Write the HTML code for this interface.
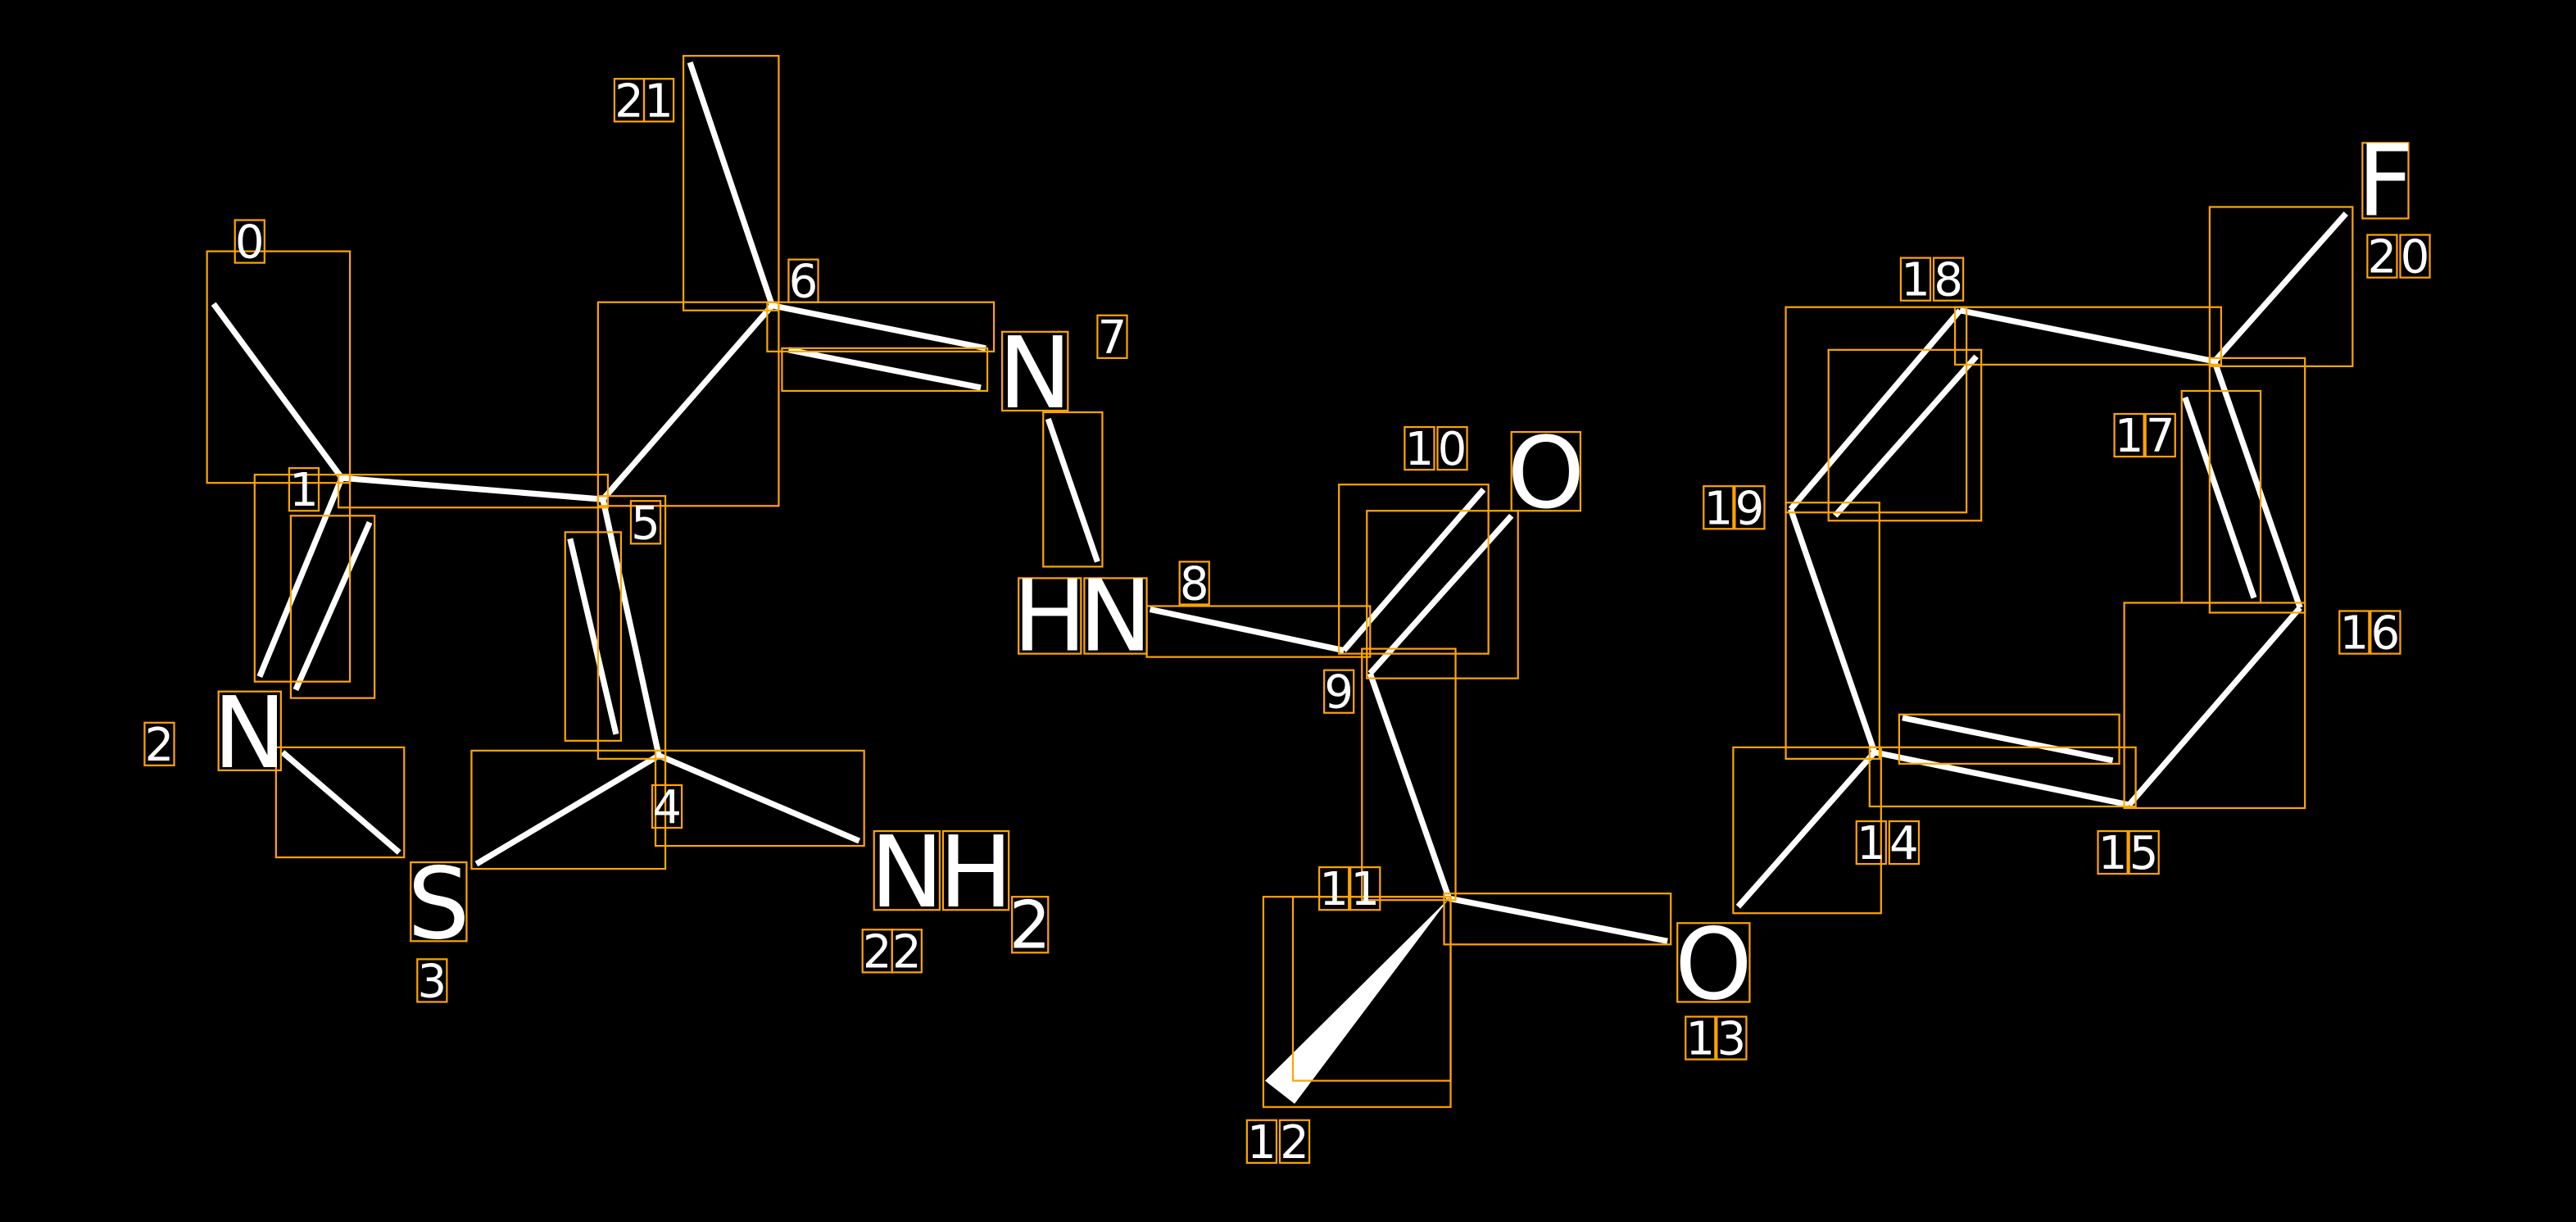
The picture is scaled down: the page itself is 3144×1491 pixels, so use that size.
<!DOCTYPE html>
<html><head><meta charset="utf-8"><style>
html,body{margin:0;padding:0;background:#000;}
svg{display:block}
</style></head><body>
<svg width="3144" height="1491" viewBox="0 0 1568 744" preserveAspectRatio="none" xmlns="http://www.w3.org/2000/svg">
<rect width="1568" height="744" fill="#000"/>
<g stroke="#fff" stroke-width="3.6" stroke-linecap="butt" fill="none">
<line x1="130" y1="185" x2="208" y2="291"/>
<line x1="208" y1="291" x2="367" y2="304"/>
<line x1="208" y1="291" x2="158" y2="412"/>
<line x1="225" y1="318" x2="180" y2="420"/>
<line x1="172" y1="458" x2="243" y2="519"/>
<line x1="290" y1="526" x2="401" y2="460"/>
<line x1="401" y1="460" x2="367" y2="304"/>
<line x1="375" y1="447" x2="347" y2="328"/>
<line x1="401" y1="460" x2="523" y2="512"/>
<line x1="367" y1="304" x2="470" y2="186"/>
<line x1="470" y1="186" x2="420" y2="38"/>
<line x1="470" y1="186" x2="600" y2="212"/>
<line x1="480" y1="213" x2="597" y2="236"/>
<line x1="638" y1="255" x2="668" y2="342"/>
<line x1="700" y1="371" x2="818" y2="396"/>
<line x1="818" y1="396" x2="903" y2="298"/>
<line x1="834" y1="410" x2="920" y2="314"/>
<line x1="834" y1="410" x2="882" y2="547"/>
<line x1="882" y1="547" x2="1015" y2="573"/>
<line x1="1058" y1="552" x2="1141" y2="458"/>
<line x1="1141" y1="458" x2="1296" y2="490"/>
<line x1="1158" y1="437" x2="1286" y2="463"/>
<line x1="1296" y1="490" x2="1400" y2="370"/>
<line x1="1400" y1="370" x2="1348" y2="220"/>
<line x1="1372" y1="364" x2="1330" y2="242"/>
<line x1="1348" y1="220" x2="1428" y2="130"/>
<line x1="1348" y1="220" x2="1193" y2="189"/>
<line x1="1193" y1="189" x2="1090" y2="310"/>
<line x1="1203" y1="217" x2="1117" y2="314"/>
<line x1="1090" y1="310" x2="1141" y2="458"/>
</g>
<polygon points="882,547 770,658 788,672" fill="#fff"/>
<g stroke="#FFA500" stroke-width="1.1" fill="none">
<rect x="126" y="153" width="87" height="141"/>
<rect x="155" y="289" width="58" height="126"/>
<rect x="177" y="314" width="51" height="111"/>
<rect x="206" y="289" width="164" height="20"/>
<rect x="364" y="184" width="110" height="124"/>
<rect x="416" y="34" width="58" height="155"/>
<rect x="467" y="184" width="138" height="30"/>
<rect x="476" y="212" width="125" height="26"/>
<rect x="364" y="302" width="41" height="160"/>
<rect x="344" y="324" width="34" height="127"/>
<rect x="287" y="457" width="118" height="72"/>
<rect x="168" y="455" width="78" height="67"/>
<rect x="399" y="457" width="127" height="58"/>
<rect x="635" y="251" width="36" height="94"/>
<rect x="698" y="369" width="136" height="31"/>
<rect x="815" y="295" width="91" height="103"/>
<rect x="832" y="311" width="92" height="102"/>
<rect x="829" y="395" width="57" height="153"/>
<rect x="769" y="546" width="114" height="128"/>
<rect x="787" y="546" width="96" height="112"/>
<rect x="879" y="544" width="138" height="31"/>
<rect x="1055" y="455" width="90" height="101"/>
<rect x="1138" y="455" width="162" height="36"/>
<rect x="1156" y="435" width="134" height="30"/>
<rect x="1293" y="367" width="110" height="125"/>
<rect x="1345" y="218" width="58" height="155"/>
<rect x="1328" y="238" width="48" height="129"/>
<rect x="1345" y="126" width="87" height="97"/>
<rect x="1190" y="187" width="162" height="35"/>
<rect x="1087" y="187" width="110" height="125"/>
<rect x="1113" y="213" width="93" height="104"/>
<rect x="1087" y="306" width="57" height="156"/>
<!-- digit boxes -->
<rect x="143" y="134" width="18" height="26"/>
<rect x="374" y="48" width="18" height="26"/><rect x="392" y="48" width="18" height="26"/>
<rect x="480" y="158" width="18" height="26"/>
<rect x="668" y="192" width="18" height="26"/>
<rect x="176" y="285" width="18" height="26"/>
<rect x="384" y="305" width="18" height="26"/>
<rect x="88" y="440" width="18" height="26"/>
<rect x="397" y="478" width="18" height="26"/>
<rect x="254" y="584" width="18" height="26"/>
<rect x="525" y="566" width="18" height="26"/><rect x="543" y="566" width="18" height="26"/>
<rect x="855" y="260" width="18" height="26"/><rect x="875" y="260" width="18" height="26"/>
<rect x="718" y="342" width="18" height="26"/>
<rect x="806" y="408" width="18" height="26"/>
<rect x="803" y="528" width="18" height="26"/><rect x="822" y="528" width="18" height="26"/>
<rect x="759" y="682" width="18" height="26"/><rect x="779" y="682" width="18" height="26"/>
<rect x="1026" y="619" width="18" height="26"/><rect x="1045" y="619" width="18" height="26"/>
<rect x="1157" y="157" width="18" height="26"/><rect x="1177" y="157" width="18" height="26"/>
<rect x="1441" y="143" width="18" height="26"/><rect x="1461" y="143" width="18" height="26"/>
<rect x="1287" y="252" width="18" height="26"/><rect x="1306" y="252" width="18" height="26"/>
<rect x="1037" y="296" width="18" height="26"/><rect x="1056" y="296" width="18" height="26"/>
<rect x="1424" y="372" width="18" height="26"/><rect x="1443" y="372" width="18" height="26"/>
<rect x="1130" y="500" width="18" height="26"/><rect x="1150" y="500" width="18" height="26"/>
<rect x="1277" y="506" width="18" height="26"/><rect x="1296" y="506" width="18" height="26"/>
<!-- atom label boxes -->
<rect x="610" y="202" width="40" height="48"/>
<rect x="620" y="352" width="38" height="46"/><rect x="660" y="352" width="38" height="46"/>
<rect x="920" y="263" width="42" height="48"/>
<rect x="133" y="421" width="38" height="48"/>
<rect x="250" y="525" width="34" height="48"/>
<rect x="532" y="506" width="40" height="48"/><rect x="574" y="506" width="40" height="48"/>
<rect x="616" y="546" width="22" height="34"/>
<rect x="1021" y="562" width="44" height="48"/>
<rect x="1438" y="87" width="28" height="46"/>
</g>
<g fill="#fff" font-family="'DejaVu Sans','Liberation Sans',sans-serif" font-size="28" text-anchor="middle">
<text x="152" y="157">0</text>
<text x="383" y="71">2</text><text x="401" y="71">1</text>
<text x="489" y="181">6</text>
<text x="677" y="215">7</text>
<text x="185" y="308">1</text>
<text x="393" y="328">5</text>
<text x="97" y="463">2</text>
<text x="406" y="501">4</text>
<text x="263" y="607">3</text>
<text x="534" y="589">2</text><text x="552" y="589">2</text>
<text x="864" y="283">1</text><text x="884" y="283">0</text>
<text x="727" y="365">8</text>
<text x="815" y="431">9</text>
<text x="812" y="551">1</text><text x="831" y="551">1</text>
<text x="768" y="705">1</text><text x="788" y="705">2</text>
<text x="1035" y="642">1</text><text x="1054" y="642">3</text>
<text x="1166" y="180">1</text><text x="1186" y="180">8</text>
<text x="1450" y="166">2</text><text x="1470" y="166">0</text>
<text x="1296" y="275">1</text><text x="1315" y="275">7</text>
<text x="1046" y="319">1</text><text x="1065" y="319">9</text>
<text x="1433" y="395">1</text><text x="1452" y="395">6</text>
<text x="1139" y="523">1</text><text x="1159" y="523">4</text>
<text x="1286" y="529">1</text><text x="1305" y="529">5</text>
</g>
<g fill="#fff" font-family="'DejaVu Sans','Liberation Sans',sans-serif" font-size="60" text-anchor="middle">
<text x="630" y="248">N</text>
<text x="639" y="396">H</text><text x="679" y="396">N</text>
<text x="941" y="309">O</text>
<text x="152" y="467">N</text>
<text x="267" y="571">S</text>
<text x="552" y="552">N</text><text x="594" y="552">H</text>
<text x="1043" y="608">O</text>
<text x="1452" y="131">F</text>
<text x="627" y="577" font-size="40">2</text>
</g>
</svg>
</body></html>
